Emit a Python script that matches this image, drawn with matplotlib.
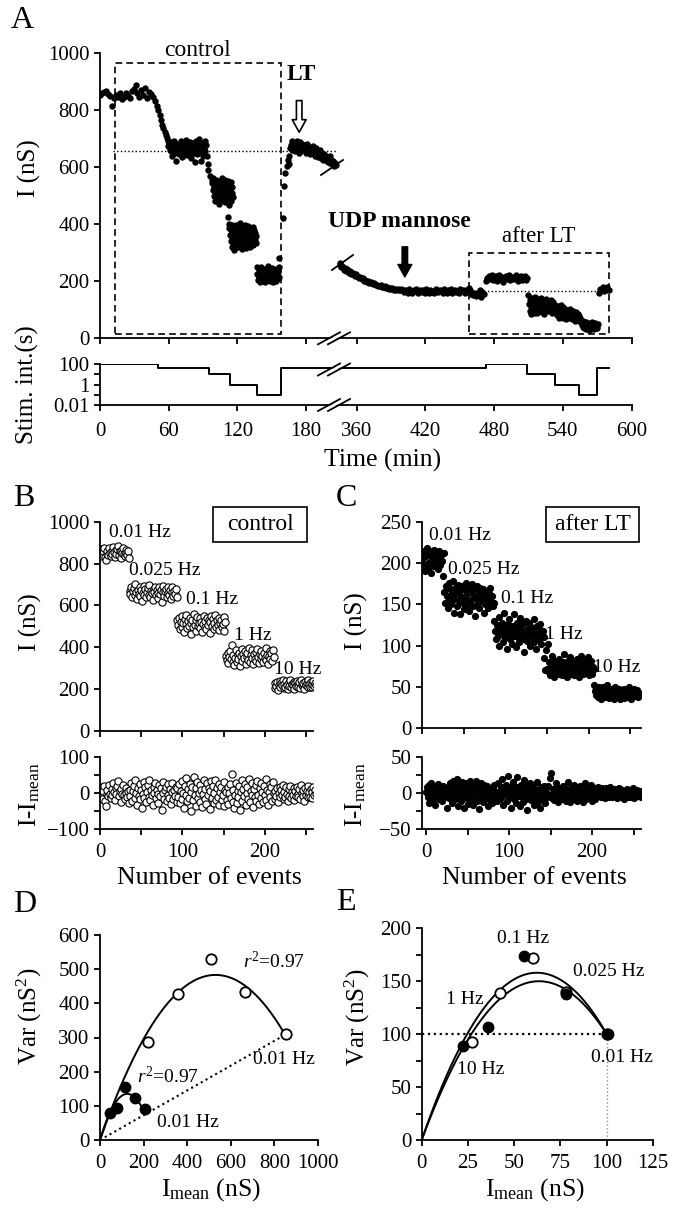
import numpy as np
import matplotlib
matplotlib.use("Agg")
import matplotlib.pyplot as plt
from matplotlib.patches import Rectangle, Polygon
from matplotlib.lines import Line2D

plt.rcParams['font.family'] = ['Liberation Serif', 'DejaVu Serif']
plt.rcParams['mathtext.fontset'] = 'custom'
plt.rcParams['mathtext.rm'] = 'Liberation Serif'
plt.rcParams['mathtext.it'] = 'Liberation Serif:italic'
plt.rcParams['mathtext.bf'] = 'Liberation Serif:bold'
plt.rcParams['axes.linewidth'] = 1.3
for a in ('xtick', 'ytick'):
    plt.rcParams[a + '.major.width'] = 1.3
    plt.rcParams[a + '.minor.width'] = 1.3
    plt.rcParams[a + '.major.size'] = 4
    plt.rcParams[a + '.minor.size'] = 4
    plt.rcParams[a + '.labelsize'] = 15
    plt.rcParams[a + '.direction'] = 'out'

# ---------------- data: panel A (time course) ----------------
# control recording, segments given as (start, end) in min and values (nS)
a_seg_ranges = [(0, 50), (51, 57.5), (58.5, 94), (94.5, 97.5), (98, 116),
                (112, 136.5), (137, 156.5), (166, 206),
                (344, 399), (400, 471), (473, 509), (510, 533), (533.5, 555.5),
                (556, 570.5), (571.5, 580)]
a_001 = [852, 858, 862, 866, 855, 848, 813, 840, 852, 845, 858, 838, 846, 860, 850,
         842, 866, 872, 887, 860, 845, 870, 852, 876, 840, 862, 855, 846, 832, 813]
a_drop1 = [800, 782, 764, 748, 735, 723, 712]
a_0025 = [700, 690, 672, 684, 660, 655, 688, 640, 665, 678, 692, 650, 622, 668, 682,
          660, 645, 675, 690, 658, 636, 670, 684, 652, 666, 695, 642, 660, 676, 648,
          688, 655, 630, 672, 664, 684, 650, 618, 668, 690, 646, 676, 660, 698, 652,
          620, 670, 685, 640, 662, 690, 655, 676, 640, 612]
a_drop2 = [590, 570, 555]
a_01 = [545, 520, 560, 498, 530, 512, 548, 480, 525, 556, 505, 538, 490, 520, 552,
        470, 515, 535, 500, 548, 528, 485, 560, 510, 540, 495, 522, 555, 478, 532,
        506, 545, 518, 490, 550, 465, 525, 502, 538, 515, 480, 548, 508, 530, 495]
a_1 = [426, 400, 385, 360, 392, 340, 378, 320, 355, 398, 335, 370, 310, 388, 348,
       362, 325, 395, 342, 372, 318, 380, 355, 335, 402, 365, 328, 390, 350, 312,
       375, 345, 385, 322, 360, 395, 338, 370, 315, 382, 352, 328, 392, 362, 340,
       378, 318, 355, 385, 332, 368, 348, 390, 325, 360, 380, 345, 370, 335, 358]
a_10 = [250, 225, 205, 240, 215, 198, 232, 210, 248, 220, 200, 236, 212, 226, 196,
        244, 218, 205, 230, 252, 208, 222, 240, 200, 216, 234, 210, 246, 225, 198,
        238, 214, 228, 202, 242, 220, 208, 232, 215, 250]
a_lt = [665, 678, 690, 660, 672, 684, 655, 668, 680, 692, 662, 650, 675, 686, 660,
        670, 682, 658, 666, 676, 648, 664, 680, 655, 670, 660, 645, 668, 656, 674,
        650, 662, 640, 655, 668, 648, 636, 652, 660, 642, 632, 648, 638, 625, 645,
        630, 640, 622, 635, 618, 628, 640, 615, 625, 610, 622, 612, 605, 615, 608]
a_udp1 = [262, 255, 248, 252, 240, 245, 236, 242, 230, 234, 226, 228, 222, 218, 224,
          214, 210, 216, 206, 210, 202, 205, 198, 200, 195, 197, 192, 190, 194, 186,
          188, 184, 182, 186, 180, 178, 182, 176, 178, 174, 176, 172, 175, 170, 173,
          168, 172, 170, 168, 172]
a_udp2 = [168, 162, 170, 165, 158, 172, 166, 160, 168, 164, 172, 158, 166, 170, 162,
          168, 160, 174, 165, 159, 170, 163, 167, 158, 172, 166, 161, 169, 164, 157,
          171, 165, 160, 168, 163, 173, 158, 166, 170, 162, 167, 159, 172, 164, 168,
          160, 170, 165, 175, 168, 155, 150, 160, 148, 158, 152, 170, 145, 162, 155]
a_lt001 = [200, 212, 218, 208, 215, 222, 205, 210, 218, 202, 212, 220, 208, 215, 198,
           210, 218, 206, 214, 220, 204, 212, 216, 208, 210, 222, 200, 214, 209, 217,
           205, 212, 218, 203, 210]
a_lt01 = [150, 120, 95, 135, 110, 85, 140, 102, 125, 90, 118, 145, 98, 130, 108,
          88, 138, 115, 95, 128, 105, 142, 92, 122, 112, 132, 86, 118, 100, 138,
          108, 125, 94, 115, 130, 98, 120, 104, 135, 90, 112, 126, 100, 118, 108]
a_lt1 = [118, 95, 108, 82, 112, 90, 72, 105, 86, 115, 78, 98, 88, 110, 70,
         94, 102, 80, 92, 68, 100, 85, 75, 96, 88, 72, 104, 82, 90, 66,
         78, 95, 70, 86, 62, 80, 92, 74, 65, 84, 70, 78, 60, 72, 58]
a_lt10 = [62, 48, 55, 38, 60, 45, 35, 52, 42, 58, 32, 48, 40, 55, 36,
          50, 44, 30, 52, 40, 46, 34, 56, 42, 38, 50, 33, 45, 40, 54,
          36, 48, 42, 35, 50]
a_end = [160, 172, 168, 178, 165, 175, 170, 180, 168]
a_segments = [a_001, a_drop1, a_0025, a_drop2, a_01, a_1, a_10, a_lt,
              a_udp1, a_udp2, a_lt001, a_lt01, a_lt1, a_lt10, a_end]
# recovery after LT (explicit times)
a_rec_t = [156.5, 159.5, 161, 162, 163, 164, 165, 165.5]
a_rec_v = [280, 420, 534, 578, 605, 625, 640, 612]

# stimulation interval (s)
stim_t = [0, 51, 95, 114, 137, 158, 473, 509, 533, 554, 570, 580]
stim_v = [100, 40, 10, 1, 0.1, 40, 100, 10, 1, 0.1, 40, 40]

# reference levels and boxes
ctrl_level, lt_level = 655, 165
ctrl_box = (13, 158, 14, 963)
after_box = (458, 580.5, 14, 298)

# ---------------- data: panels B / C ----------------
b_groups = [
    [840, 852, 868, 835, 858, 872, 830, 815, 848, 860, 842, 875, 850, 838, 862, 845, 880, 855,
     832, 866, 848, 870, 885, 842, 858, 828, 862, 850, 874, 845, 835, 866, 852, 840, 858, 825],
    [670, 655, 690, 640, 668, 682, 648, 700, 662, 630, 676, 655, 688, 645, 672, 620, 660, 694,
     650, 678, 638, 665, 685, 652, 698, 642, 670, 658, 628, 680, 662, 690, 648, 672, 636, 660,
     686, 654, 676, 615, 664, 692, 646, 670, 680, 640, 658, 688, 650, 675, 632, 666, 690, 645,
     670, 655, 680, 638],
    [530, 505, 540, 488, 520, 548, 498, 515, 472, 535, 510, 556, 492, 525, 502, 540, 465, 518,
     532, 495, 560, 508, 480, 528, 545, 500, 515, 490, 538, 522, 475, 512, 550, 498, 526, 485,
     542, 508, 530, 470, 520, 548, 502, 535, 488, 515, 552, 496, 528, 505, 540, 482, 518, 532,
     495, 510, 545, 478, 522],
    [360, 338, 372, 325, 355, 380, 342, 410, 330, 365, 315, 350, 385, 328, 362, 345, 375, 310,
     358, 392, 335, 368, 348, 380, 322, 355, 372, 340, 395, 330, 362, 350, 385, 318, 368, 345,
     378, 335, 390, 352, 325, 370, 342, 384, 360, 332, 375, 350, 395, 338, 365, 322, 358, 380,
     345, 372, 335, 388, 355],
    [205, 228, 215, 235, 198, 222, 240, 210, 230, 218, 245, 205, 226, 212, 238, 220, 200, 232,
     215, 242, 208, 225, 218, 236, 202, 228, 214, 240, 220, 210, 232, 206, 245, 222, 215, 230,
     200, 236, 218, 228, 210, 242, 225, 212, 234, 208, 226, 240, 216, 230, 220],
]
c_groups = [
    [205, 212, 198, 215, 190, 208, 218, 200, 195, 210, 214, 188, 206, 202, 216, 196, 209, 212,
     200, 193, 214, 205, 198, 210, 203, 184, 212],
    [165, 152, 172, 160, 145, 176, 158, 168, 150, 162, 178, 140, 156, 170, 164, 148, 174, 155,
     166, 138, 160, 172, 152, 168, 144, 158, 176, 162, 150, 170, 142, 165, 155, 175, 148, 160,
     168, 136, 158, 172, 152, 164, 146, 170, 160, 155, 168, 140, 162, 150, 166, 158, 145, 164,
     155, 170, 150, 160, 148, 152],
    [130, 118, 108, 125, 112, 135, 100, 120, 115, 128, 105, 122, 140, 110, 118, 96, 126, 114,
     132, 108, 120, 102, 124, 138, 112, 118, 98, 128, 110, 122, 104, 134, 116, 108, 126, 92,
     118, 112, 130, 106, 120, 114, 128, 100, 122, 110, 118, 132, 104, 116, 96, 124, 112, 120,
     108, 126, 102, 114, 118, 110],
    [85, 70, 95, 72, 102, 68, 80, 65, 76, 88, 70, 74, 62, 82, 68, 78, 72, 66, 84, 70, 75, 64,
     80, 72, 90, 68, 76, 62, 82, 74, 70, 86, 66, 78, 72, 64, 80, 70, 76, 84, 68, 74, 62, 78,
     88, 70, 66, 82, 74, 68, 80, 72, 86, 64, 76, 70, 82, 66, 74, 72],
    [52, 45, 40, 48, 38, 50, 42, 46, 36, 44, 50, 40, 47, 38, 43, 52, 41, 37, 46, 44, 39, 48,
     42, 36, 45, 50, 40, 44, 38, 47, 42, 35, 46, 40, 44, 48, 37, 43, 41, 46, 38, 44, 50, 40,
     36, 45, 42, 47, 39, 44, 41, 46, 38, 43],
]
freq_labels = ['0.01 Hz', '0.025 Hz', '0.1 Hz', '1 Hz', '10 Hz']
b_label_pos = [(48, 947), (79, 769), (136, 626), (185, 454), (240, 295)]
c_label_pos = [(46, 233), (74, 192), (126, 157), (170, 114), (234, 74)]

# ---------------- data: panels D / E ----------------
d_open_I = [852, 664, 511, 356, 221]
d_open_var = [309, 432, 529, 427, 286]
d_fill_I = [206, 160, 115, 76, 46]
d_fill_var = [90, 122, 156, 95, 80]
d_fit_open = (1.823, 581.5)     # Var = i*I - I^2/N
d_fit_fill = (2.16, 115.7)

e_open_I = [100, 78, 60.3, 42.3, 27]
e_open_var = [100, 140, 172, 139, 93]
e_fill_I = [100.5, 78, 55.2, 35.6, 22.1]
e_fill_var = [100.5, 137.5, 174, 106.5, 89]
e_fit_a = [5.075, 4.732]        # Var = a*I - b*I^2
e_fit_b = [0.04075, 0.03732]

# ---------------- layout helpers ----------------
W, H = 674, 1213
fig = plt.figure(figsize=(W / 100, H / 100), dpi=100)


def px_axes(l, t, r, b):
    ax = fig.add_axes([l / W, 1 - b / H, (r - l) / W, (b - t) / H])
    ax.spines['top'].set_visible(False)
    ax.spines['right'].set_visible(False)
    ax.patch.set_alpha(0)
    return ax


def ftext(x, y, s, **kw):
    fig.text(x / W, 1 - y / H, s, ha=kw.pop('ha', 'center'), va=kw.pop('va', 'center'), **kw)


def fline(xs, ys, **kw):
    fig.add_artist(Line2D([x / W for x in xs], [1 - y / H for y in ys],
                          transform=fig.transFigure, color='k', **kw))


def brk(yc, x0=318):
    fig.add_artist(Polygon([((x0 + 2) / W, 1 - (yc + 6) / H), ((x0 + 24) / W, 1 - (yc - 6) / H),
                            ((x0 + 30) / W, 1 - (yc - 6) / H), ((x0 + 8) / W, 1 - (yc + 6) / H)],
                           closed=True, transform=fig.transFigure, fc='white', ec='none', zorder=5))
    for dx in (0, 10):
        fline([x0 + dx, x0 + dx + 22], [yc + 6, yc - 6], lw=1.3, zorder=6)


def fwd(t):
    t = np.asarray(t, dtype=float)
    return np.where(t <= 208, t, np.where(t >= 345, t - 135.7, 208 + (t - 208) * 1.3 / 137))


def inv(p):
    p = np.asarray(p, dtype=float)
    return np.where(p <= 208, p, np.where(p >= 209.3, p + 135.7, 208 + (p - 208) * 137 / 1.3))


xt = [0, 60, 120, 180, 360, 420, 480, 540, 600]

# ---------------- panel A ----------------
axA = px_axes(100, 52.7, 631.5, 338.3)
axA.set_xscale('function', functions=(fwd, inv))
axA.set_xlim(0, 600)
axA.set_ylim(0, 1000)
for (t0, t1), vals in zip(a_seg_ranges, a_segments):
    axA.plot(np.linspace(t0, t1, len(vals)), vals, 'o', color='k', ms=4.6, mew=0)
axA.plot(a_rec_t, a_rec_v, 'o', color='k', ms=4.6, mew=0)
axA.plot([11, 207], [ctrl_level] * 2, ':', color='k', lw=1.0)
axA.plot([458, 580], [lt_level] * 2, ':', color='k', lw=1.0)
for x0, x1, y0, y1 in (ctrl_box, after_box):
    axA.add_patch(Rectangle((x0, y0), x1 - x0, y1 - y0, fill=False, ls=(0, (4, 2.5)), lw=1.2))
axA.set_xticks(xt)
axA.tick_params(labelbottom=False)
axA.set_yticks(range(0, 1001, 200))
axA.text(85, 1008, 'control', ha='center', va='center', fontsize=17)
axA.text(176, 922, 'LT', ha='center', va='center', fontsize=17, fontweight='bold')
axA.annotate('', xy=(174, 712), xytext=(174, 842),
             arrowprops=dict(arrowstyle='simple,head_length=0.9,head_width=1.0,tail_width=0.4',
                             fc='white', ec='k', lw=1.2))
axA.text(397, 408, 'UDP mannose', ha='center', va='center', fontsize=17, fontweight='bold')
axA.annotate('', xy=(402, 205), xytext=(402, 330),
             arrowprops=dict(arrowstyle='simple,head_length=0.9,head_width=1.0,tail_width=0.4',
                             fc='k', ec='k', lw=1.0))
axA.text(519, 356, 'after LT', ha='center', va='center', fontsize=16.5)
fline([321, 343], [175, 160], lw=1.3, zorder=6)
fline([332, 353], [270, 255], lw=1.3, zorder=6)
brk(338.3)

axS = px_axes(100, 364.3, 631.5, 405)
axS.set_xscale('function', functions=(fwd, inv))
axS.set_xlim(0, 600)
axS.set_yscale('log')
axS.set_ylim(0.01, 100)
axS.step(stim_t, stim_v, where='post', color='k', lw=1.4)
axS.set_yticks([0.01, 0.1, 1, 10, 100])
axS.set_yticklabels(['0.01', '', '1', '', '100'])
axS.yaxis.set_minor_locator(matplotlib.ticker.NullLocator())
axS.set_xticks(xt)
axS.set_xticklabels([str(v) for v in xt])
axS.tick_params(axis='x', pad=8)
brk(369.5)
brk(405)

ftext(22, 21, 'A', fontsize=23)
ftext(29, 168, 'I (nS)', rotation=90, fontsize=18)
ftext(27, 385, 'Stim. int.(s)', rotation=90, fontsize=18)
ftext(383, 460, 'Time (min)', fontsize=18.5)

# ---------------- panels B / C ----------------
def scatter_panel(top_box, res_box, groups, xlim_top, xlim_res, ylim, yticks, res_lim,
                  res_ticks, res_minor, open_marker, label_pos, box_text, box_frac):
    ax = px_axes(*top_box)
    axr = px_axes(*res_box)
    start = 0
    for vals in groups:
        x = np.arange(start, start + len(vals))
        v = np.array(vals, dtype=float)
        kw = dict(mfc='white', mec='k', mew=0.8) if open_marker else dict(mfc='k', mec='k', mew=0)
        ax.plot(x, v, 'o', ms=5.2, **kw)
        axr.plot(x, v - v.mean(), 'o', ms=5.2, **kw)
        start += len(vals)
    ax.set_xlim(*xlim_top)
    ax.set_ylim(*ylim)
    ax.set_yticks(yticks)
    ax.set_xticks(range(0, 251, 50))
    ax.tick_params(labelbottom=False)
    for s, (x, y) in zip(freq_labels, label_pos):
        ax.text(x, y, s, ha='center', va='center', fontsize=14)
    x0, x1, y0, y1 = box_frac
    ax.add_patch(Rectangle((x0, y0), x1 - x0, y1 - y0, transform=ax.transAxes, fill=False,
                           lw=1.2, clip_on=False))
    ax.text((x0 + x1) / 2, (y0 + y1) / 2, box_text, transform=ax.transAxes, ha='center',
            va='center', fontsize=17)
    axr.set_xlim(*xlim_res)
    axr.set_ylim(*res_lim)
    axr.set_yticks(res_ticks)
    axr.set_yticks(res_minor, minor=True)
    axr.set_xticks([0, 100, 200])
    axr.set_xticks([50, 150, 250], minor=True)
    axr.tick_params(axis='x', pad=6)
    return ax, axr


scatter_panel((100, 521.7, 313.3, 731), (100, 757, 313.3, 829), b_groups, (0, 259), (0, 259),
              (0, 1000), range(0, 1001, 200), (-100, 100), [-100, 0, 100], [-50, 50], True,
              b_label_pos, 'control', (0.532, 0.97, 0.904, 1.07))
scatter_panel((422, 521.7, 641, 728.3), (422, 757, 641, 829), c_groups, (0, 263), (-5, 259),
              (0, 250), range(0, 251, 50), (-50, 50), [-50, 0, 50], [-25, 25], False,
              c_label_pos, 'after LT', (0.566, 0.991, 0.903, 1.071))

ftext(24, 499, 'B', fontsize=23)
ftext(346, 499, 'C', fontsize=23)
ftext(30, 622, 'I (nS)', rotation=90, fontsize=18)
ftext(356, 621, 'I (nS)', rotation=90, fontsize=18)
ftext(30, 795, r'I-I$_{\mathrm{mean}}$', rotation=90, fontsize=18)
ftext(356, 795, r'I-I$_{\mathrm{mean}}$', rotation=90, fontsize=18)
ftext(209, 878, 'Number of events', fontsize=18.5)
ftext(534, 878, 'Number of events', fontsize=18.5)

# ---------------- panel D ----------------
axD = px_axes(100, 935, 318, 1140)
axD.set_xlim(0, 1000)
axD.set_ylim(0, 600)
for (i_, n_), imax in ((d_fit_open, max(d_open_I)), (d_fit_fill, max(d_fill_I))):
    xx = np.linspace(0, imax, 200)
    axD.plot(xx, i_ * xx - xx ** 2 / n_, color='k', lw=1.4)
axD.plot([0, d_open_I[0]], [0, d_open_var[0]], ':', color='k', lw=1.5)
axD.plot(d_open_I, d_open_var, 'o', ms=7.5, mfc='white', mec='k', mew=1.3)
axD.plot(d_fill_I, d_fill_var, 'o', ms=7.5, mfc='k', mec='k')
axD.set_xticks(range(0, 1001, 200))
axD.set_yticks(range(0, 601, 100))
axD.tick_params(axis='x', pad=6)
axD.text(657, 522, r'$r^2$=0.97', ha='left', va='center', fontsize=14)
axD.text(168, 185, r'$r^2$=0.97', ha='left', va='center', fontsize=14)
axD.text(703, 236, '0.01 Hz', ha='left', va='center', fontsize=14)
axD.text(260, 51, '0.01 Hz', ha='left', va='center', fontsize=14)

# ---------------- panel E ----------------
axE = px_axes(421.7, 928.3, 653, 1140)
axE.set_xlim(0, 125)
axE.set_ylim(0, 200)
for a_, b_ in zip(e_fit_a, e_fit_b):
    xx = np.linspace(0, 100, 200)
    axE.plot(xx, a_ * xx - b_ * xx ** 2, color='k', lw=1.4)
axE.plot([0, 100], [100, 100], ':', color='k', lw=1.6)
axE.plot([100, 100], [0, 100], ':', color='0.55', lw=1.0)
axE.plot(e_open_I, e_open_var, 'o', ms=7.5, mfc='white', mec='k', mew=1.3)
axE.plot(e_fill_I, e_fill_var, 'o', ms=7.5, mfc='k', mec='k')
axE.set_xticks(range(0, 126, 25))
axE.set_yticks(range(0, 201, 50))
axE.set_yticks(range(25, 200, 50), minor=True)
axE.tick_params(axis='x', pad=6)
for s, (x, y) in zip(['0.1 Hz', '0.025 Hz', '1 Hz', '10 Hz', '0.01 Hz'],
                     [(54.6, 190), (100.9, 159), (23.4, 133), (31.9, 67), (108, 78)]):
    axE.text(x, y, s, ha='center', va='center', fontsize=14)

ftext(25, 904, 'D', fontsize=23)
ftext(346, 903, 'E', fontsize=23)
ftext(29, 1016, r'Var (nS$^2$)', rotation=90, fontsize=18)
ftext(357, 1017, r'Var (nS$^2$)', rotation=90, fontsize=18)
ftext(211, 1190, r'I$_{\mathrm{mean}}$ (nS)', fontsize=18.5)
ftext(535, 1190, r'I$_{\mathrm{mean}}$ (nS)', fontsize=18.5)

fig.savefig('out.png', dpi=100)
